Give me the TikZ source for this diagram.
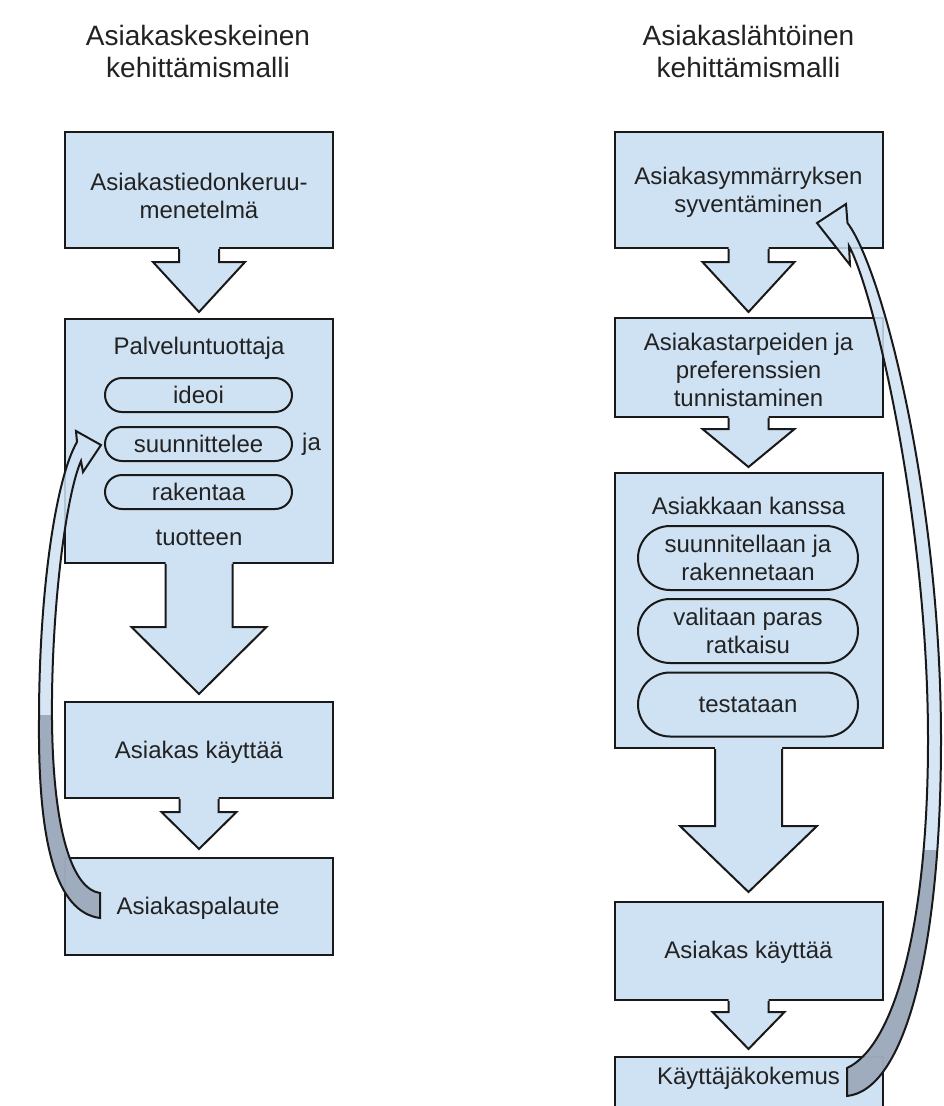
\documentclass[tikz,border=0pt]{standalone}
\usepackage{fontspec}
\setmainfont{Liberation Sans}
\usetikzlibrary{calc,shapes.misc}
\definecolor{boxfill}{RGB}{207,226,243}
\definecolor{undergrey}{RGB}{150,163,180}
\definecolor{edgecol}{RGB}{25,25,25}
\definecolor{txtcol}{RGB}{34,34,34}
\tikzset{
  box/.style={draw=edgecol, fill=boxfill, line width=2pt, rectangle, inner sep=0pt, minimum width=268pt},
  pill/.style={draw=edgecol, fill=boxfill, line width=2pt, rounded rectangle, inner sep=0pt, text=txtcol,
     font=\fontsize{24}{28}\selectfont, align=center},
  txt/.style={text=txtcol, font=\fontsize{24}{28}\selectfont, align=center, inner sep=0pt},
  ttl/.style={text=txtcol, font=\fontsize{28}{32}\selectfont, align=center, inner sep=0pt},
  outl/.style={draw=edgecol, line width=2pt, line join=miter},
}
\newcommand\blockarrow[6]{%
  \fill[boxfill] ($(#1.south)+(-#3,-2)$) -- ($(#2.north)+(-#3,-#6-#5)$) -- ($(#2.north)+(-#4,-#6-#5)$) -- ($(#2.north)+(0,-#6)$) -- ($(#2.north)+(#4,-#6-#5)$) -- ($(#2.north)+(#3,-#6-#5)$) -- ($(#1.south)+(#3,-2)$) -- cycle;
  \draw[outl] ($(#1.south)+(-#3,0)$) -- ($(#2.north)+(-#3,-#6-#5)$) -- ($(#2.north)+(-#4,-#6-#5)$) -- ($(#2.north)+(0,-#6)$) -- ($(#2.north)+(#4,-#6-#5)$) -- ($(#2.north)+(#3,-#6-#5)$) -- ($(#1.south)+(#3,0)$);
}
\newcommand\leftcurve[1]{\path[#1] (100,893) .. controls (72,889) and (53,830) .. (52,720) .. controls (51,610) and (66,495) .. (81,461) -- (83,472) -- (101,445) -- (76,431) -- (77,442) .. controls (56,478) and (39,590) .. (39,720) .. controls (38,840) and (55,912) .. (100,918) -- cycle;}
\newcommand\rightcurve[1]{\path[#1] (847,1068) .. controls (893,1047) and (928,930) .. (928,740) .. controls (928,520) and (874,292) .. (849,246) -- (850,265) -- (817,223) -- (846,204) -- (847.5,223) .. controls (883,270) and (941,500) .. (941,740) .. controls (941,950) and (905,1090) .. (847,1096) -- cycle;}
\begin{document}
\begin{tikzpicture}[x=1pt,y=-1pt]
\useasboundingbox (0,0) rectangle (944,1106);
\fill[white] (0,0) rectangle (944,1106);
\clip (0,0) rectangle (944,1106);
% titles
\node[ttl] (T1) at (198,51) {Asiakaskeskeinen\\kehittämismalli};
\node[ttl] (T2) at (748.5,51) {Asiakaslähtöinen\\kehittämismalli};
% left column
\node[box, minimum height=116pt] (L1) at (199,190) {};
\node[box, minimum height=244pt] (L2) at (199,441) {};
\node[box, minimum height=96pt] (L3) at (199,750) {};
\node[box, minimum height=97pt] (L4) at (199,906.5) {};
\node[txt] (L1t) at (199,196) {Asiakastiedonkeruu-\\menetelmä};
\node[txt] (L2t) at (199,348) {Palveluntuottaja};
\node[pill, minimum width=187pt, minimum height=34pt] (p1) at (198.5,395) {ideoi};
\node[pill, minimum width=187pt, minimum height=34pt] (p2) at (198.5,444) {suunnittelee};
\node[pill, minimum width=187pt, minimum height=34pt] (p3) at (198.5,492) {rakentaa};
\node[txt, anchor=west] (ja) at (302,444) {ja};
\node[txt] (L2b) at (199,538) {tuotteen};
\node[txt] (L3t) at (199,752) {Asiakas käyttää};
\node[txt] (L4t) at (198,908) {Asiakaspalaute};
% right column
\node[box, minimum height=116pt] (R1) at (748.5,190) {};
\node[box, minimum height=99pt] (R2) at (748.5,367.5) {};
\node[box, minimum height=275pt] (R3) at (748.5,610.5) {};
\node[box, minimum height=98pt] (R4) at (748.5,951) {};
\node[box, minimum height=100pt] (R5) at (748.5,1107) {};
\node[txt] (R1t) at (748.5,192) {Asiakasymmärryksen\\syventäminen};
\node[txt] (R2t) at (748.5,370) {Asiakastarpeiden ja\\preferenssien\\tunnistaminen};
\node[txt] (R3t) at (748.5,506) {Asiakkaan kanssa};
\node[pill, minimum width=220pt, minimum height=64pt] (q1) at (748,558) {suunnitellaan ja\\rakennetaan};
\node[pill, minimum width=220pt, minimum height=64pt] (q2) at (748,631) {valitaan paras\\ratkaisu};
\node[pill, minimum width=220pt, minimum height=64pt] (q3) at (748,704.5) {testataan};
\node[txt] (R4t) at (748.5,952) {Asiakas käyttää};
\node[txt] (R5t) at (748.5,1078) {Käyttäjäkokemus};
% block arrows
\blockarrow{L1}{L2}{20}{46}{50}{6}
\blockarrow{L2}{L3}{33.5}{67.5}{67}{7}
\blockarrow{L3}{L4}{19.5}{37.5}{37}{8}
\blockarrow{R1}{R2}{20}{46}{50}{5}
\blockarrow{R2}{R3}{20}{46}{38}{5}
\blockarrow{R3}{R4}{33.5}{68.5}{66}{9}
\blockarrow{R4}{R5}{20}{36}{37}{7}
% curved feedback arrows
\leftcurve{fill=boxfill, fill opacity=0.85}
\begin{scope}
  \clip (0,715) rectangle (200,1000);
  \leftcurve{fill=undergrey, fill opacity=0.85}
\end{scope}
\leftcurve{outl}
\rightcurve{fill=boxfill, fill opacity=0.85}
\begin{scope}
  \clip (700,850) rectangle (944,1106);
  \rightcurve{fill=undergrey, fill opacity=0.85}
\end{scope}
\rightcurve{outl}
\end{tikzpicture}
\end{document}
